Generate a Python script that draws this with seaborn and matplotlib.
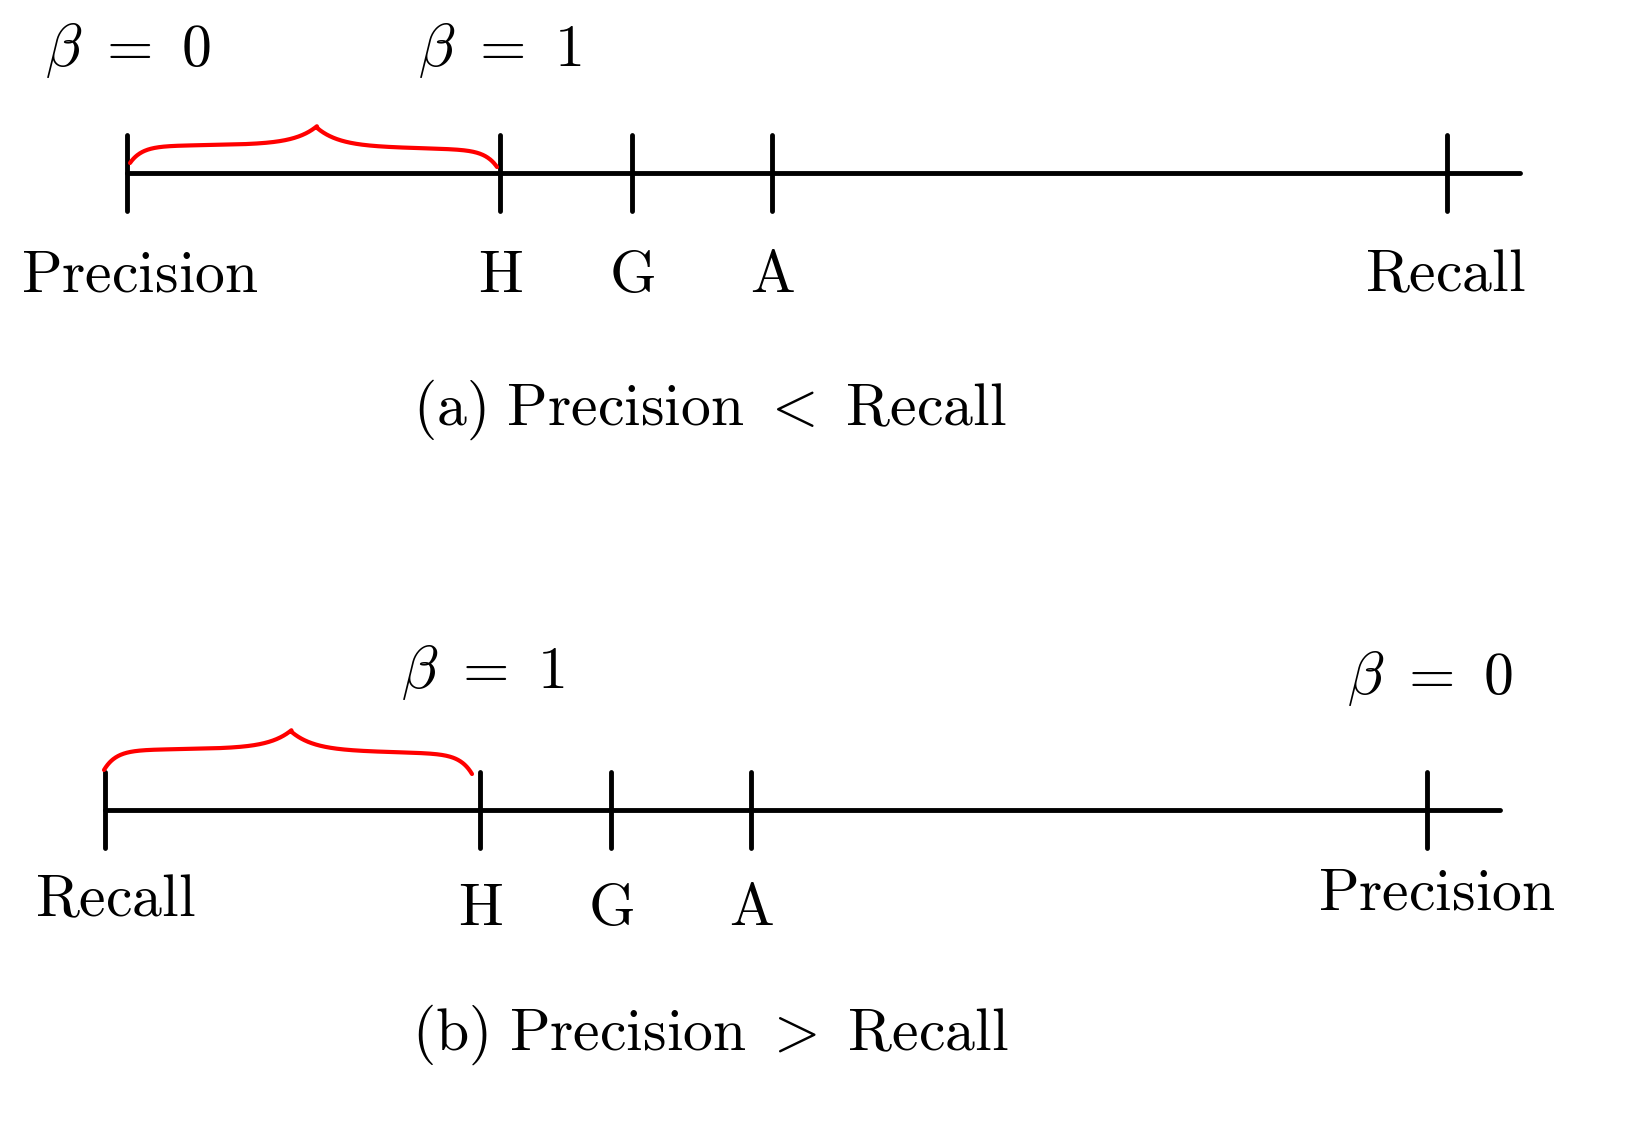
import numpy as np
import matplotlib
matplotlib.use("Agg")
import matplotlib.pyplot as plt
import seaborn as sns

sns.set_theme(style="white")
plt.rcParams["mathtext.fontset"] = "cm"
plt.rcParams["text.color"] = "black"

# Panel data (pixel-like coordinates of a diagram)
top_ticks = [127, 500, 632, 772, 1447]
top_labels = ["Precision", "H", "G", "A", "Recall"]
bot_ticks = [105, 480, 611, 751, 1427]
bot_labels = ["Recall", "H", "G", "A", "Precision"]
captions = ["(a)\\ Precision\\ <\\ Recall", "(b)\\ Precision\\ >\\ Recall"]

fig = plt.figure(figsize=(16.33, 11.22), dpi=100)
ax = fig.add_axes([0, 0, 1, 1])
ax.set_xlim(0, 1633)
ax.set_ylim(1122, 0)
ax.axis("off")

FS = 43

def brace(x0, x1, ytop, yend):
    xm = x0 + (x1 - x0) * 0.51
    x = np.linspace(x0, x1, 600)
    flat = ytop + 18
    y = flat + (yend - flat) * (np.exp(-(x - x0) / 12) + np.exp(-(x1 - x) / 12))
    left = x < xm
    # half-braces rising to cusp
    y = y - 18 * np.exp(-np.abs(x - xm) / 22)
    y = y + np.where(left, -2 * (x - x0) / (xm - x0), 4 * (x - xm) / (x1 - xm))
    ax.plot(x, y, color="red", lw=3, solid_capstyle="round")

def panel(ticks, labels, y, xend, label_y, caption, cap_y):
    sns.lineplot(x=[ticks[0], xend], y=[y, y], ax=ax, color="black", lw=3.5)
    for t in ticks:
        ax.plot([t, t], [y - 38, y + 38], color="black", lw=3.5)
    for t, l, ly in zip(ticks, labels, label_y):
        ax.text(t, ly, "$\\mathrm{" + l + "}$", ha="center", va="center", fontsize=FS)
    ax.text(710, cap_y, "$\\mathrm{" + caption + "}$", ha="center", va="center", fontsize=FS)

panel(top_ticks, top_labels, 173, 1520, [275, 275, 275, 275, 275], captions[0], 410)
panel(bot_ticks, bot_labels, 810, 1500, [900, 908, 908, 908, 893], captions[1], 1035)
ax.texts[0].set_x(140)
ax.texts[4].set_x(1445)
ax.texts[6].set_x(115)
ax.texts[10].set_x(1437)

ax.text(128, 50, "$\\beta\\ =\\ 0$", ha="center", va="center", fontsize=FS)
ax.text(500, 50, "$\\beta\\ =\\ 1$", ha="center", va="center", fontsize=FS)
ax.text(483, 672, "$\\beta\\ =\\ 1$", ha="center", va="center", fontsize=FS)
ax.text(1430, 678, "$\\beta\\ =\\ 0$", ha="center", va="center", fontsize=FS)

brace(130, 497, 128, 163)
brace(104, 472, 732, 770)

fig.savefig("out.png", dpi=100, facecolor="white")
